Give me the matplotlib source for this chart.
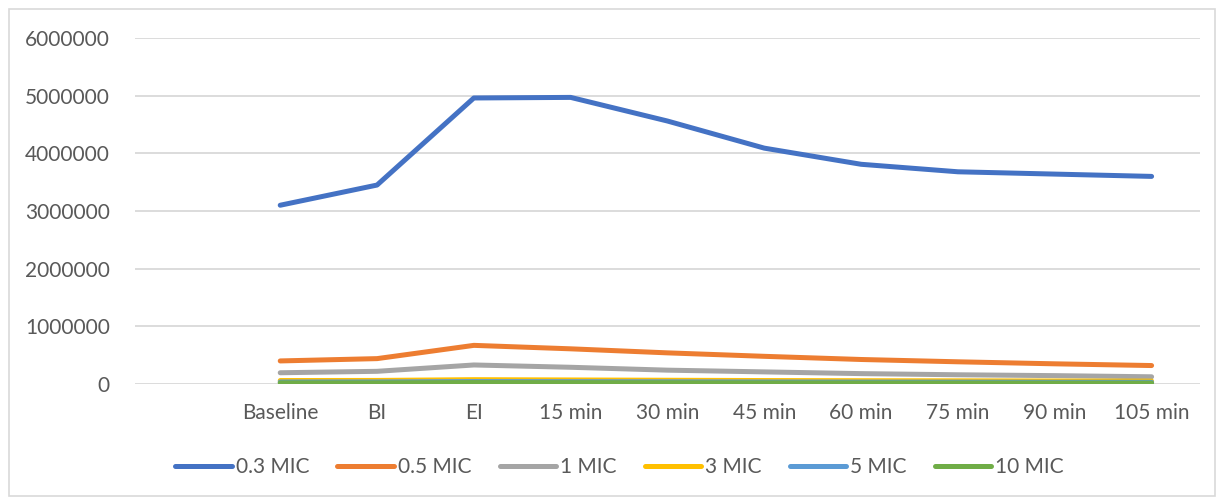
import numpy as np
import matplotlib
matplotlib.use("Agg")
from matplotlib import pyplot as plt
from matplotlib.patches import Rectangle

plt.rcParams['font.family'] = ['Lato', 'DejaVu Sans']

# sampling times (first category slot is left blank)
time_points = ['', 'Baseline', 'BI', 'EI', '15 min', '30 min', '45 min',
               '60 min', '75 min', '90 min', '105 min']

mic_03 = [3100000, 3450000, 4960000, 4970000, 4560000, 4090000, 3810000, 3680000, 3640000, 3600000]
mic_05 = [400000, 440000, 670000, 610000, 540000, 480000, 425000, 385000, 350000, 320000]
mic_1 = [195000, 220000, 330000, 290000, 240000, 210000, 180000, 160000, 145000, 125000]
mic_3 = [60000, 62000, 75000, 70000, 65000, 60000, 57000, 55000, 52000, 50000]
mic_5 = [35000, 36000, 42000, 40000, 38000, 35000, 33000, 32000, 30000, 30000]
mic_10 = [20000, 20000, 25000, 24000, 22000, 20000, 19000, 18000, 17000, 16000]

series = [mic_03, mic_05, mic_1, mic_3, mic_5, mic_10]
names = ['0.3 MIC', '0.5 MIC', '1 MIC', '3 MIC', '5 MIC', '10 MIC']
colors = ['#4472C4', '#ED7D31', '#A5A5A5', '#FFC000', '#5B9BD5', '#70AD47']
text_color = '#595959'
grid_color = '#D9D9D9'

fig = plt.figure(figsize=(12.22, 5.04), dpi=100)
# light frame round the whole chart
fig.patches.append(Rectangle((9 / 1222, 8 / 504), 1206 / 1222, 487 / 504,
                             transform=fig.transFigure, fill=False,
                             edgecolor=grid_color, linewidth=1.2))

ax = fig.add_axes([135 / 1222, 1 - 384 / 504, 1065 / 1222, 346 / 504])

x = np.arange(1, len(time_points))
for vals, name, c in zip(series, names, colors):
    ax.plot(x, vals, color=c, linewidth=3.6, label=name,
            solid_capstyle='round', solid_joinstyle='round', zorder=3)

ax.set_xlim(-0.5, len(time_points) - 0.5)
ax.set_ylim(0, 6000000)
ax.set_yticks(range(0, 6000001, 1000000))
ax.set_yticklabels([str(v) for v in range(0, 6000001, 1000000)])
ax.set_xticks(range(len(time_points)))
ax.set_xticklabels(time_points)
ax.tick_params(axis='y', length=0, pad=18, labelsize=15, labelcolor=text_color)
ax.tick_params(axis='x', length=0, pad=14, labelsize=15, labelcolor=text_color)
ax.grid(axis='y', color=grid_color, linewidth=1.3)
ax.set_axisbelow(True)
for s in ax.spines.values():
    s.set_visible(False)

fig.legend(loc='center', bbox_to_anchor=(0.507, 0.073), ncol=6,
           frameon=False, fontsize=15, labelcolor=text_color, handlelength=2.7,
           handletextpad=0.2, columnspacing=1.35)

fig.savefig('out.png', dpi=100)
